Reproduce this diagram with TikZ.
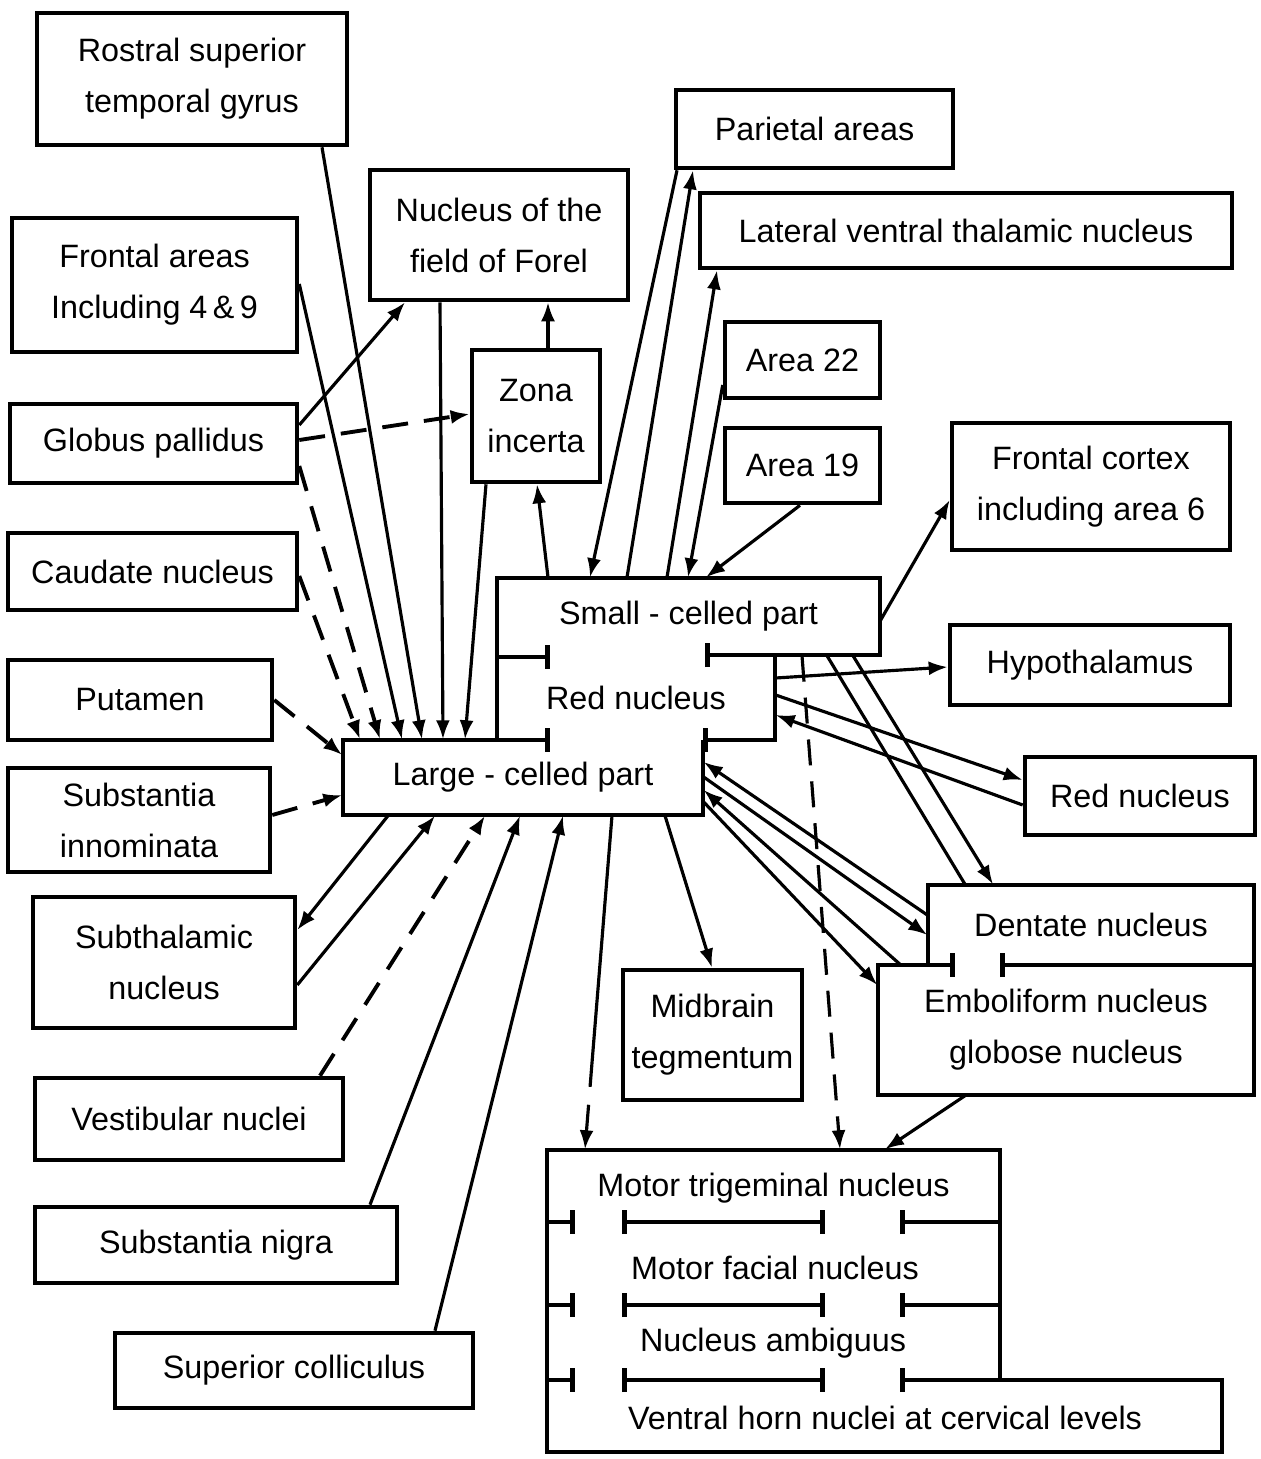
\documentclass[tikz,border=0pt]{standalone}
\usepackage{fontspec}
\setmainfont{Liberation Sans}
\usetikzlibrary{arrows.meta,positioning,calc}

\begin{document}
\begin{tikzpicture}[x=0.1mm, y=-0.1mm, font=\fontsize{9.2}{14.5}\selectfont,
  box/.style={draw, line width=1.3pt, align=center, inner sep=0pt},
  lbl/.style={align=center, inner sep=0pt},
  frame/.style={line width=1.3pt},
  barstart/.style={{Bar[width=2.4mm]}-},
  barend/.style={-{Bar[width=2.4mm]}},
  barboth/.style={{Bar[width=2.4mm]}-{Bar[width=2.4mm]}},
  link/.style={line width=0.9pt},
  conn/.style={link, -{Latex[length=1.9mm,width=1.4mm]}},
  dconn/.style={conn, line width=1.1pt, dash pattern=on 2.6mm off 1.6mm}]
  \useasboundingbox (0,0) rectangle (1260,1459);
  % Afferent boxes, left column
  \node[box, minimum width=31mm, minimum height=13.2mm] (rostral) at (192,79) {Rostral superior\\temporal gyrus};
  \node[box, minimum width=28.5mm, minimum height=13.4mm] (frontal) at (154.5,285) {Frontal areas\\Including 4\,\&\,9};
  \node[box, minimum width=28.7mm, minimum height=7.9mm] (globus) at (153.5,443.5) {Globus pallidus};
  \node[box, minimum width=28.9mm, minimum height=7.7mm] (caudate) at (152.5,571.5) {Caudate nucleus};
  \node[box, minimum width=26.4mm, minimum height=8mm] (putamen) at (140,700) {Putamen};
  \node[box, minimum width=26.2mm, minimum height=10.4mm] (innominata) at (139,820) {Substantia\\innominata};
  \node[box, minimum width=26.2mm, minimum height=13.1mm] (subthal) at (164,962.5) {Subthalamic\\nucleus};
  \node[box, minimum width=30.8mm, minimum height=8.2mm] (vestib) at (189,1119) {Vestibular nuclei};
  \node[box, minimum width=36.2mm, minimum height=7.6mm] (nigra) at (216,1245) {Substantia nigra};
  \node[box, minimum width=35.8mm, minimum height=7.5mm] (colliculus) at (294,1370.5) {Superior colliculus};
  % Boxes above the red nucleus
  \node[box, minimum width=25.8mm, minimum height=13mm] (forel) at (499,235) {Nucleus of the\\field of Forel};
  \node[box, minimum width=12.8mm, minimum height=13.2mm] (zona) at (536,416) {Zona\\incerta};
  \node[box, minimum width=27.7mm, minimum height=7.8mm] (parietal) at (814.5,129) {Parietal areas};
  \node[box, minimum width=53.2mm, minimum height=7.5mm] (lateral) at (966,230.5) {Lateral ventral thalamic nucleus};
  \node[box, minimum width=15.5mm, minimum height=7.6mm] (area22) at (802.5,360) {Area 22};
  \node[box, minimum width=15.5mm, minimum height=7.5mm] (area19) at (802.5,465.5) {Area 19};
  \node[box, minimum width=27.8mm, minimum height=12.7mm] (fcortex) at (1091,486.5) {Frontal cortex\\including area 6};
  \node[box, minimum width=28mm, minimum height=8mm] (hypo) at (1090,665) {Hypothalamus};
  \node[box, minimum width=23mm, minimum height=7.8mm] (rednuc2) at (1140,796) {Red nucleus};
  \node[box, minimum width=17.9mm, minimum height=13mm] (midbrain) at (712.5,1035) {Midbrain\\tegmentum};
  % Red nucleus
  \draw[frame, barstart] (550,740) -- (343,740) -- (343,815) -- (703,815) -- (703,740);
  \draw[frame, barstart] (703,740) -- (775,740) -- (775,655);
  \draw[frame, barstart] (705,655) -- (880,655) -- (880,578) -- (497,578) -- (497,740);
  \draw[frame, barend] (497,657) -- (550,657);
  \node[lbl, minimum width=38.3mm, minimum height=7.7mm] (small) at (688.5,616.5) {Small - celled part};
  \node[lbl, minimum width=27.8mm, minimum height=8.5mm] (rednuc) at (636,697.5) {Red nucleus};
  \node[lbl, minimum width=36mm, minimum height=7.5mm] (large) at (523,777.5) {Large - celled part};
  % Cerebellar nuclei
  \draw[frame, barend] (928,965) -- (928,885) -- (1254,885) -- (1254,1095) -- (878,1095) -- (878,965) -- (955,965);
  \draw[frame, barstart] (1000,965) -- (1254,965);
  \node[lbl, minimum width=32.6mm, minimum height=8mm] (dentate) at (1091,925) {Dentate nucleus};
  \node[lbl, minimum width=37.6mm, minimum height=13mm] (embol) at (1066,1030) {Emboliform nucleus\\globose nucleus};
  % Motor nuclei
  \draw[frame] (547,1150) -- (1000,1150) -- (1000,1380) -- (1222,1380) -- (1222,1452) -- (547,1452) -- cycle;
  \foreach \y in {1222,1305,1380} {
    \draw[frame, barend] (547,\y) -- (575,\y);
    \draw[frame, barboth] (622,\y) -- (825,\y);
    \draw[frame, barstart] (900,\y) -- (1000,\y);
  }
  \node[lbl, minimum width=45.3mm, minimum height=7.6mm] (trigem) at (773.5,1188) {Motor trigeminal nucleus};
  \node[lbl] (facial) at (775,1268) {Motor facial nucleus};
  \node[lbl] (ambig) at (773,1343) {Nucleus ambiguus};
  \node[lbl] (ventral) at (885,1418) {Ventral horn nuclei at cervical levels};
  % Into the large-celled part
  \draw[dconn] (globus.east |- 0,466) -- (large.north -| 380,0);
  \draw[dconn] (caudate.east |- 0,576) -- (large.north -| 360,0);
  \draw[conn] (frontal.east |- 0,284) -- (large.north -| 402,0);
  \draw[conn] (rostral.south -| 322,0) -- (large.north -| 422,0);
  \draw[conn] (forel.south -| 440,0) -- (large.north -| 443,0);
  \draw[conn] (zona.south -| 486,0) -- (large.north -| 465,0);
  \draw[dconn] (putamen.east |- 0,700) -- (large.west |- 0,755);
  \draw[dconn] (innominata.east |- 0,815) -- (large.west |- 0,795);
  \draw[conn] (subthal.east |- 0,985) -- (large.south -| 435,0);
  \draw[dconn] (vestib.north -| 320,0) -- (large.south -| 485,0);
  \draw[conn] (nigra.north -| 370,0) -- (large.south -| 520,0);
  \draw[conn] (colliculus.north -| 435,0) -- (large.south -| 563,0);
  \draw[conn] (dentate.west |- 0,915) -- (large.east |- 0,762);
  \draw[conn] (embol.north -| 900,0) -- (large.east |- 0,790);
  % Out of the large-celled part
  \draw[conn] (large.south -| 388,0) -- (subthal.east |- 0,930);
  \draw[conn, dash pattern=on 27.2mm off 1.8mm on 10mm] (large.south -| 612,0) -- (trigem.north -| 585,0);
  \draw[conn] (large.south -| 665,0) -- (midbrain.north -| 712,0);
  \draw[conn] (large.east |- 0,777) -- (dentate.west |- 0,935);
  \draw[conn] (large.east |- 0,802) -- (embol.west |- 0,985);
  % Zona incerta and field of Forel
  \draw[conn] (small.north -| 548,0) -- (zona.south -| 537,0);
  \draw[conn] (zona.north -| 548,0) -- (forel.south -| 548,0);
  \draw[conn] (globus.east |- 0,425) -- (forel.south -| 405,0);
  \draw[dconn] (globus.east |- 0,440) -- (zona.west |- 0,414);
  % Small-celled part
  \draw[conn] (parietal.south -| 677,0) -- (small.north -| 590,0);
  \draw[conn] (small.north -| 627,0) -- (parietal.south -| 693,0);
  \draw[conn] (small.north -| 667,0) -- (lateral.south -| 717,0);
  \draw[conn] (area22.west |- 0,385) -- (small.north -| 688,0);
  \draw[conn] (area19.south -| 800,0) -- (small.north -| 706,0);
  \draw[conn] (small.east |- 0,620) -- (fcortex.west |- 0,500);
  \draw[conn] (rednuc.east |- 0,678) -- (hypo.west |- 0,667);
  \draw[conn] (rednuc.east |- 0,695) -- (rednuc2.west |- 0,780);
  \draw[conn] (rednuc2.west |- 0,805) -- (rednuc.east |- 0,715);
  \draw[link] (small.south -| 827,0) -- (dentate.north -| 965,0);
  \draw[conn] (small.south -| 853,0) -- (dentate.north -| 993,0);
  \draw[dconn, line width=0.9pt] (small.south -| 802,0) -- (trigem.north -| 840,0);
  \draw[conn] (embol.south -| 965,0) -- (trigem.north -| 885,0);
\end{tikzpicture}
\end{document}
